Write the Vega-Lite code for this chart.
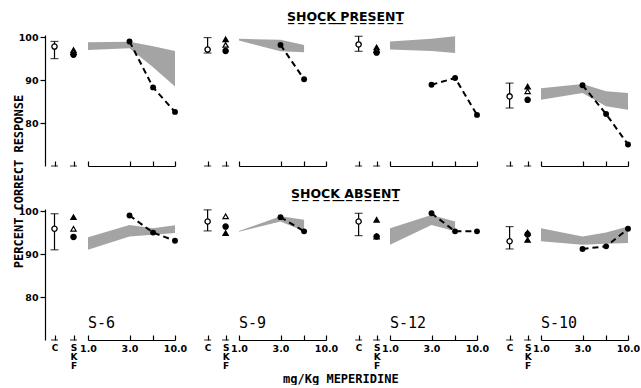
{
"$schema": "https://vega.github.io/schema/vega-lite/v6.json",
"background": "white",
"padding": {"left": 12, "top": 10, "right": 0, "bottom": 0},
"title": {"text": "mg/Kg MEPERIDINE", "orient": "bottom", "anchor": "middle", "fontSize": 12, "font": "DejaVu Sans Mono", "fontWeight": "bold", "offset": 4, "dx": 15},
"bounds": "flush",
"columns": 8,
"spacing": {"row": 43, "column": 5},
"concat": [
 {"width": 38, "height": 131, "layer": [
  {"data": {"values": [{"cond": "C"}, {"cond": "SKF"}]}, "mark": {"type": "tick", "orient": "horizontal", "size": 7, "thickness": 1.2, "color": "black"},
   "encoding": {"x": {"field": "cond", "type": "nominal", "scale": {"type": "point", "domain": ["C", "SKF"], "padding": 0.5}, "axis": {"title": null, "domain": false, "tickSize": -5, "labels": false}},
    "y": {"datum": 70, "type": "quantitative", "scale": {"domain": [70, 100.5], "nice": false, "zero": false}, "axis": {"title": "PERCENT CORRECT RESPONSE", "values": [80, 90, 100], "tickSize": 5, "labelFontSize": 9.5, "labelFontWeight": "bold", "labelPadding": 2, "titleFont": "DejaVu Sans Mono", "titleFontSize": 12, "titleFontWeight": "bold", "titleX": -20, "titleY": 146}}}},
  {"data": {"name": "ctrl"}, "transform": [{"filter": "datum.subject=='S-6' && datum.shock=='present'"}], "mark": {"type": "rule", "color": "black", "strokeWidth": 1.2}, "encoding": {"x": {"field": "cond", "type": "nominal"}, "y": {"field": "lo", "type": "quantitative"}, "y2": {"field": "hi"}}},
  {"data": {"name": "ctrl"}, "transform": [{"filter": "datum.subject=='S-6' && datum.shock=='present'"}], "mark": {"type": "tick", "orient": "horizontal", "size": 8, "thickness": 1.2, "color": "black"}, "encoding": {"x": {"field": "cond", "type": "nominal"}, "y": {"field": "lo", "type": "quantitative"}}},
  {"data": {"name": "ctrl"}, "transform": [{"filter": "datum.subject=='S-6' && datum.shock=='present'"}], "mark": {"type": "tick", "orient": "horizontal", "size": 8, "thickness": 1.2, "color": "black"}, "encoding": {"x": {"field": "cond", "type": "nominal"}, "y": {"field": "hi", "type": "quantitative"}}},
  {"data": {"name": "ctrl"}, "transform": [{"filter": "datum.subject=='S-6' && datum.shock=='present'"}], "mark": {"type": "point", "shape": "circle", "filled": true, "fill": "white", "stroke": "black", "strokeWidth": 1.3, "size": 28, "opacity": 1}, "encoding": {"x": {"field": "cond", "type": "nominal"}, "y": {"field": "mean", "type": "quantitative"}}},
  {"data": {"name": "skf"}, "transform": [{"filter": "datum.subject=='S-6' && datum.shock=='present'"}], "mark": {"type": "point", "filled": true, "stroke": "black", "strokeWidth": 1.2, "size": 28, "opacity": 1}, "encoding": {"x": {"field": "cond", "type": "nominal"}, "y": {"field": "value", "type": "quantitative"}, "shape": {"field": "sym", "type": "nominal", "scale": {"domain": ["A", "B", "C"], "range": ["triangle-up", "triangle-up", "circle"]}, "legend": null}, "fill": {"field": "sym", "type": "nominal", "scale": {"domain": ["A", "B", "C"], "range": ["black", "white", "black"]}, "legend": null}}}
 ]},
 {"width": 87, "height": 131, "layer": [
  {"data": {"name": "band"}, "transform": [{"filter": "datum.subject=='S-6' && datum.shock=='present'"}], "mark": {"type": "area", "fill": "#9a9a9a", "opacity": 0.9}, "encoding": {"x": {"field": "dose", "type": "quantitative", "scale": {"type": "log", "domain": [1, 10], "nice": false}, "axis": {"title": null, "values": [1, 3, 5.6, 10], "tickSize": -5, "labels": false}}, "y": {"field": "lo", "type": "quantitative", "scale": {"domain": [70, 100.5], "nice": false, "zero": false}, "axis": null}, "y2": {"field": "hi"}}},
  {"data": {"name": "drug"}, "transform": [{"filter": "datum.subject=='S-6' && datum.shock=='present'"}], "mark": {"type": "line", "color": "black", "strokeWidth": 2, "strokeDash": [6, 4]}, "encoding": {"x": {"field": "dose", "type": "quantitative"}, "y": {"field": "value", "type": "quantitative"}}},
  {"data": {"name": "drug"}, "transform": [{"filter": "datum.subject=='S-6' && datum.shock=='present'"}], "mark": {"type": "point", "shape": "circle", "filled": true, "color": "black", "size": 35, "opacity": 1}, "encoding": {"x": {"field": "dose", "type": "quantitative"}, "y": {"field": "value", "type": "quantitative"}}}
 ]},
 {"width": 54, "height": 131, "layer": [
  {"data": {"values": [{"cond": "C"}, {"cond": "SKF"}]}, "mark": {"type": "tick", "orient": "horizontal", "size": 7, "thickness": 1.2, "color": "black"},
   "encoding": {"x": {"field": "cond", "type": "nominal", "scale": {"type": "point", "domain": ["C", "SKF"], "padding": 1.043, "align": 0.767}, "axis": {"title": null, "domain": false, "tickSize": -5, "labels": false}},
    "y": {"datum": 70, "type": "quantitative", "scale": {"domain": [70, 100.5], "nice": false, "zero": false}, "axis": null}}},
  {"data": {"name": "ctrl"}, "transform": [{"filter": "datum.subject=='S-9' && datum.shock=='present'"}], "mark": {"type": "rule", "color": "black", "strokeWidth": 1.2}, "encoding": {"x": {"field": "cond", "type": "nominal"}, "y": {"field": "lo", "type": "quantitative"}, "y2": {"field": "hi"}}},
  {"data": {"name": "ctrl"}, "transform": [{"filter": "datum.subject=='S-9' && datum.shock=='present'"}], "mark": {"type": "tick", "orient": "horizontal", "size": 8, "thickness": 1.2, "color": "black"}, "encoding": {"x": {"field": "cond", "type": "nominal"}, "y": {"field": "lo", "type": "quantitative"}}},
  {"data": {"name": "ctrl"}, "transform": [{"filter": "datum.subject=='S-9' && datum.shock=='present'"}], "mark": {"type": "tick", "orient": "horizontal", "size": 8, "thickness": 1.2, "color": "black"}, "encoding": {"x": {"field": "cond", "type": "nominal"}, "y": {"field": "hi", "type": "quantitative"}}},
  {"data": {"name": "ctrl"}, "transform": [{"filter": "datum.subject=='S-9' && datum.shock=='present'"}], "mark": {"type": "point", "shape": "circle", "filled": true, "fill": "white", "stroke": "black", "strokeWidth": 1.3, "size": 28, "opacity": 1}, "encoding": {"x": {"field": "cond", "type": "nominal"}, "y": {"field": "mean", "type": "quantitative"}}},
  {"data": {"name": "skf"}, "transform": [{"filter": "datum.subject=='S-9' && datum.shock=='present'"}], "mark": {"type": "point", "filled": true, "stroke": "black", "strokeWidth": 1.2, "size": 28, "opacity": 1}, "encoding": {"x": {"field": "cond", "type": "nominal"}, "y": {"field": "value", "type": "quantitative"}, "shape": {"field": "sym", "type": "nominal", "scale": {"domain": ["A", "B", "C"], "range": ["triangle-up", "triangle-up", "circle"]}, "legend": null}, "fill": {"field": "sym", "type": "nominal", "scale": {"domain": ["A", "B", "C"], "range": ["black", "white", "black"]}, "legend": null}}}
 ]},
 {"width": 87, "height": 131,
  "title": {"text": "S̲H̲O̲C̲K̲ ̲P̲R̲E̲S̲E̲N̲T̲", "anchor": "middle", "font": "DejaVu Sans", "fontSize": 12.5, "fontWeight": "bold", "offset": 12, "dx": 63},
  "layer": [
  {"data": {"name": "band"}, "transform": [{"filter": "datum.subject=='S-9' && datum.shock=='present'"}], "mark": {"type": "area", "fill": "#9a9a9a", "opacity": 0.9}, "encoding": {"x": {"field": "dose", "type": "quantitative", "scale": {"type": "log", "domain": [1, 10], "nice": false}, "axis": {"title": null, "values": [1, 3, 5.6, 10], "tickSize": -5, "labels": false}}, "y": {"field": "lo", "type": "quantitative", "scale": {"domain": [70, 100.5], "nice": false, "zero": false}, "axis": null}, "y2": {"field": "hi"}}},
  {"data": {"name": "drug"}, "transform": [{"filter": "datum.subject=='S-9' && datum.shock=='present'"}], "mark": {"type": "line", "color": "black", "strokeWidth": 2, "strokeDash": [6, 4]}, "encoding": {"x": {"field": "dose", "type": "quantitative"}, "y": {"field": "value", "type": "quantitative"}}},
  {"data": {"name": "drug"}, "transform": [{"filter": "datum.subject=='S-9' && datum.shock=='present'"}], "mark": {"type": "point", "shape": "circle", "filled": true, "color": "black", "size": 35, "opacity": 1}, "encoding": {"x": {"field": "dose", "type": "quantitative"}, "y": {"field": "value", "type": "quantitative"}}}
 ]},
 {"width": 54, "height": 131, "layer": [
  {"data": {"values": [{"cond": "C"}, {"cond": "SKF"}]}, "mark": {"type": "tick", "orient": "horizontal", "size": 7, "thickness": 1.2, "color": "black"},
   "encoding": {"x": {"field": "cond", "type": "nominal", "scale": {"type": "point", "domain": ["C", "SKF"], "padding": 1.043, "align": 0.767}, "axis": {"title": null, "domain": false, "tickSize": -5, "labels": false}},
    "y": {"datum": 70, "type": "quantitative", "scale": {"domain": [70, 100.5], "nice": false, "zero": false}, "axis": null}}},
  {"data": {"name": "ctrl"}, "transform": [{"filter": "datum.subject=='S-12' && datum.shock=='present'"}], "mark": {"type": "rule", "color": "black", "strokeWidth": 1.2}, "encoding": {"x": {"field": "cond", "type": "nominal"}, "y": {"field": "lo", "type": "quantitative"}, "y2": {"field": "hi"}}},
  {"data": {"name": "ctrl"}, "transform": [{"filter": "datum.subject=='S-12' && datum.shock=='present'"}], "mark": {"type": "tick", "orient": "horizontal", "size": 8, "thickness": 1.2, "color": "black"}, "encoding": {"x": {"field": "cond", "type": "nominal"}, "y": {"field": "lo", "type": "quantitative"}}},
  {"data": {"name": "ctrl"}, "transform": [{"filter": "datum.subject=='S-12' && datum.shock=='present'"}], "mark": {"type": "tick", "orient": "horizontal", "size": 8, "thickness": 1.2, "color": "black"}, "encoding": {"x": {"field": "cond", "type": "nominal"}, "y": {"field": "hi", "type": "quantitative"}}},
  {"data": {"name": "ctrl"}, "transform": [{"filter": "datum.subject=='S-12' && datum.shock=='present'"}], "mark": {"type": "point", "shape": "circle", "filled": true, "fill": "white", "stroke": "black", "strokeWidth": 1.3, "size": 28, "opacity": 1}, "encoding": {"x": {"field": "cond", "type": "nominal"}, "y": {"field": "mean", "type": "quantitative"}}},
  {"data": {"name": "skf"}, "transform": [{"filter": "datum.subject=='S-12' && datum.shock=='present'"}], "mark": {"type": "point", "filled": true, "stroke": "black", "strokeWidth": 1.2, "size": 28, "opacity": 1}, "encoding": {"x": {"field": "cond", "type": "nominal"}, "y": {"field": "value", "type": "quantitative"}, "shape": {"field": "sym", "type": "nominal", "scale": {"domain": ["A", "B", "C"], "range": ["triangle-up", "triangle-up", "circle"]}, "legend": null}, "fill": {"field": "sym", "type": "nominal", "scale": {"domain": ["A", "B", "C"], "range": ["black", "white", "black"]}, "legend": null}}}
 ]},
 {"width": 87, "height": 131, "layer": [
  {"data": {"name": "band"}, "transform": [{"filter": "datum.subject=='S-12' && datum.shock=='present'"}], "mark": {"type": "area", "fill": "#9a9a9a", "opacity": 0.9}, "encoding": {"x": {"field": "dose", "type": "quantitative", "scale": {"type": "log", "domain": [1, 10], "nice": false}, "axis": {"title": null, "values": [1, 3, 5.6, 10], "tickSize": -5, "labels": false}}, "y": {"field": "lo", "type": "quantitative", "scale": {"domain": [70, 100.5], "nice": false, "zero": false}, "axis": null}, "y2": {"field": "hi"}}},
  {"data": {"name": "drug"}, "transform": [{"filter": "datum.subject=='S-12' && datum.shock=='present'"}], "mark": {"type": "line", "color": "black", "strokeWidth": 2, "strokeDash": [6, 4]}, "encoding": {"x": {"field": "dose", "type": "quantitative"}, "y": {"field": "value", "type": "quantitative"}}},
  {"data": {"name": "drug"}, "transform": [{"filter": "datum.subject=='S-12' && datum.shock=='present'"}], "mark": {"type": "point", "shape": "circle", "filled": true, "color": "black", "size": 35, "opacity": 1}, "encoding": {"x": {"field": "dose", "type": "quantitative"}, "y": {"field": "value", "type": "quantitative"}}}
 ]},
 {"width": 54, "height": 131, "layer": [
  {"data": {"values": [{"cond": "C"}, {"cond": "SKF"}]}, "mark": {"type": "tick", "orient": "horizontal", "size": 7, "thickness": 1.2, "color": "black"},
   "encoding": {"x": {"field": "cond", "type": "nominal", "scale": {"type": "point", "domain": ["C", "SKF"], "padding": 1.043, "align": 0.767}, "axis": {"title": null, "domain": false, "tickSize": -5, "labels": false}},
    "y": {"datum": 70, "type": "quantitative", "scale": {"domain": [70, 100.5], "nice": false, "zero": false}, "axis": null}}},
  {"data": {"name": "ctrl"}, "transform": [{"filter": "datum.subject=='S-10' && datum.shock=='present'"}], "mark": {"type": "rule", "color": "black", "strokeWidth": 1.2}, "encoding": {"x": {"field": "cond", "type": "nominal"}, "y": {"field": "lo", "type": "quantitative"}, "y2": {"field": "hi"}}},
  {"data": {"name": "ctrl"}, "transform": [{"filter": "datum.subject=='S-10' && datum.shock=='present'"}], "mark": {"type": "tick", "orient": "horizontal", "size": 8, "thickness": 1.2, "color": "black"}, "encoding": {"x": {"field": "cond", "type": "nominal"}, "y": {"field": "lo", "type": "quantitative"}}},
  {"data": {"name": "ctrl"}, "transform": [{"filter": "datum.subject=='S-10' && datum.shock=='present'"}], "mark": {"type": "tick", "orient": "horizontal", "size": 8, "thickness": 1.2, "color": "black"}, "encoding": {"x": {"field": "cond", "type": "nominal"}, "y": {"field": "hi", "type": "quantitative"}}},
  {"data": {"name": "ctrl"}, "transform": [{"filter": "datum.subject=='S-10' && datum.shock=='present'"}], "mark": {"type": "point", "shape": "circle", "filled": true, "fill": "white", "stroke": "black", "strokeWidth": 1.3, "size": 28, "opacity": 1}, "encoding": {"x": {"field": "cond", "type": "nominal"}, "y": {"field": "mean", "type": "quantitative"}}},
  {"data": {"name": "skf"}, "transform": [{"filter": "datum.subject=='S-10' && datum.shock=='present'"}], "mark": {"type": "point", "filled": true, "stroke": "black", "strokeWidth": 1.2, "size": 28, "opacity": 1}, "encoding": {"x": {"field": "cond", "type": "nominal"}, "y": {"field": "value", "type": "quantitative"}, "shape": {"field": "sym", "type": "nominal", "scale": {"domain": ["A", "B", "C"], "range": ["triangle-up", "triangle-up", "circle"]}, "legend": null}, "fill": {"field": "sym", "type": "nominal", "scale": {"domain": ["A", "B", "C"], "range": ["black", "white", "black"]}, "legend": null}}}
 ]},
 {"width": 87, "height": 131, "layer": [
  {"data": {"name": "band"}, "transform": [{"filter": "datum.subject=='S-10' && datum.shock=='present'"}], "mark": {"type": "area", "fill": "#9a9a9a", "opacity": 0.9}, "encoding": {"x": {"field": "dose", "type": "quantitative", "scale": {"type": "log", "domain": [1, 10], "nice": false}, "axis": {"title": null, "values": [1, 3, 5.6, 10], "tickSize": -5, "labels": false}}, "y": {"field": "lo", "type": "quantitative", "scale": {"domain": [70, 100.5], "nice": false, "zero": false}, "axis": null}, "y2": {"field": "hi"}}},
  {"data": {"name": "drug"}, "transform": [{"filter": "datum.subject=='S-10' && datum.shock=='present'"}], "mark": {"type": "line", "color": "black", "strokeWidth": 2, "strokeDash": [6, 4]}, "encoding": {"x": {"field": "dose", "type": "quantitative"}, "y": {"field": "value", "type": "quantitative"}}},
  {"data": {"name": "drug"}, "transform": [{"filter": "datum.subject=='S-10' && datum.shock=='present'"}], "mark": {"type": "point", "shape": "circle", "filled": true, "color": "black", "size": 35, "opacity": 1}, "encoding": {"x": {"field": "dose", "type": "quantitative"}, "y": {"field": "value", "type": "quantitative"}}}
 ]},

 {"width": 38, "height": 131, "layer": [
  {"data": {"values": [{"cond": "C"}, {"cond": "SKF"}]}, "mark": {"type": "tick", "orient": "horizontal", "size": 7, "thickness": 1.2, "color": "black"},
   "encoding": {"x": {"field": "cond", "type": "nominal", "scale": {"type": "point", "domain": ["C", "SKF"], "padding": 0.5}, "axis": {"title": null, "domain": false, "tickSize": -5, "labels": true, "labelAngle": 0, "labelExpr": "datum.value=='SKF' ? ['S','K','F'] : datum.value", "labelFontSize": 9, "labelFontWeight": "bold", "labelPadding": 8, "labelLineHeight": 9, "labelBaseline": "top"}},
    "y": {"datum": 70, "type": "quantitative", "scale": {"domain": [70, 100.5], "nice": false, "zero": false}, "axis": {"title": null, "values": [80, 90, 100], "tickSize": 5, "labelFontSize": 9.5, "labelFontWeight": "bold", "labelPadding": 2}}}},
  {"data": {"name": "ctrl"}, "transform": [{"filter": "datum.subject=='S-6' && datum.shock=='absent'"}], "mark": {"type": "rule", "color": "black", "strokeWidth": 1.2}, "encoding": {"x": {"field": "cond", "type": "nominal"}, "y": {"field": "lo", "type": "quantitative"}, "y2": {"field": "hi"}}},
  {"data": {"name": "ctrl"}, "transform": [{"filter": "datum.subject=='S-6' && datum.shock=='absent'"}], "mark": {"type": "tick", "orient": "horizontal", "size": 8, "thickness": 1.2, "color": "black"}, "encoding": {"x": {"field": "cond", "type": "nominal"}, "y": {"field": "lo", "type": "quantitative"}}},
  {"data": {"name": "ctrl"}, "transform": [{"filter": "datum.subject=='S-6' && datum.shock=='absent'"}], "mark": {"type": "tick", "orient": "horizontal", "size": 8, "thickness": 1.2, "color": "black"}, "encoding": {"x": {"field": "cond", "type": "nominal"}, "y": {"field": "hi", "type": "quantitative"}}},
  {"data": {"name": "ctrl"}, "transform": [{"filter": "datum.subject=='S-6' && datum.shock=='absent'"}], "mark": {"type": "point", "shape": "circle", "filled": true, "fill": "white", "stroke": "black", "strokeWidth": 1.3, "size": 28, "opacity": 1}, "encoding": {"x": {"field": "cond", "type": "nominal"}, "y": {"field": "mean", "type": "quantitative"}}},
  {"data": {"name": "skf"}, "transform": [{"filter": "datum.subject=='S-6' && datum.shock=='absent'"}], "mark": {"type": "point", "filled": true, "stroke": "black", "strokeWidth": 1.2, "size": 28, "opacity": 1}, "encoding": {"x": {"field": "cond", "type": "nominal"}, "y": {"field": "value", "type": "quantitative"}, "shape": {"field": "sym", "type": "nominal", "scale": {"domain": ["A", "B", "C"], "range": ["triangle-up", "triangle-up", "circle"]}, "legend": null}, "fill": {"field": "sym", "type": "nominal", "scale": {"domain": ["A", "B", "C"], "range": ["black", "white", "black"]}, "legend": null}}}
 ]},
 {"width": 87, "height": 131, "layer": [
  {"data": {"name": "band"}, "transform": [{"filter": "datum.subject=='S-6' && datum.shock=='absent'"}], "mark": {"type": "area", "fill": "#9a9a9a", "opacity": 0.9}, "encoding": {"x": {"field": "dose", "type": "quantitative", "scale": {"type": "log", "domain": [1, 10], "nice": false}, "axis": {"title": null, "values": [1, 3, 5.6, 10], "tickSize": -5, "labels": true, "labelExpr": "datum.value==5.6 ? '' : format(datum.value, '.1f')", "labelFontSize": 9.5, "labelFontWeight": "bold", "labelFlush": false, "labelOverlap": false, "labelPadding": 8, "labelBaseline": "top"}}, "y": {"field": "lo", "type": "quantitative", "scale": {"domain": [70, 100.5], "nice": false, "zero": false}, "axis": null}, "y2": {"field": "hi"}}},
  {"data": {"name": "drug"}, "transform": [{"filter": "datum.subject=='S-6' && datum.shock=='absent'"}], "mark": {"type": "line", "color": "black", "strokeWidth": 2, "strokeDash": [6, 4]}, "encoding": {"x": {"field": "dose", "type": "quantitative"}, "y": {"field": "value", "type": "quantitative"}}},
  {"data": {"name": "drug"}, "transform": [{"filter": "datum.subject=='S-6' && datum.shock=='absent'"}], "mark": {"type": "point", "shape": "circle", "filled": true, "color": "black", "size": 35, "opacity": 1}, "encoding": {"x": {"field": "dose", "type": "quantitative"}, "y": {"field": "value", "type": "quantitative"}}},
  {"data": {"name": "subj"}, "transform": [{"filter": "datum.subject=='S-6'"}], "mark": {"type": "text", "align": "left", "baseline": "middle", "fontSize": 15, "font": "DejaVu Sans Mono", "color": "black"}, "encoding": {"x": {"datum": 1, "type": "quantitative"}, "y": {"datum": 74, "type": "quantitative"}, "text": {"field": "subject"}}}
 ]},
 {"width": 54, "height": 131, "layer": [
  {"data": {"values": [{"cond": "C"}, {"cond": "SKF"}]}, "mark": {"type": "tick", "orient": "horizontal", "size": 7, "thickness": 1.2, "color": "black"},
   "encoding": {"x": {"field": "cond", "type": "nominal", "scale": {"type": "point", "domain": ["C", "SKF"], "padding": 1.043, "align": 0.767}, "axis": {"title": null, "domain": false, "tickSize": -5, "labels": true, "labelAngle": 0, "labelExpr": "datum.value=='SKF' ? ['S','K','F'] : datum.value", "labelFontSize": 9, "labelFontWeight": "bold", "labelPadding": 8, "labelLineHeight": 9, "labelBaseline": "top"}},
    "y": {"datum": 70, "type": "quantitative", "scale": {"domain": [70, 100.5], "nice": false, "zero": false}, "axis": null}}},
  {"data": {"name": "ctrl"}, "transform": [{"filter": "datum.subject=='S-9' && datum.shock=='absent'"}], "mark": {"type": "rule", "color": "black", "strokeWidth": 1.2}, "encoding": {"x": {"field": "cond", "type": "nominal"}, "y": {"field": "lo", "type": "quantitative"}, "y2": {"field": "hi"}}},
  {"data": {"name": "ctrl"}, "transform": [{"filter": "datum.subject=='S-9' && datum.shock=='absent'"}], "mark": {"type": "tick", "orient": "horizontal", "size": 8, "thickness": 1.2, "color": "black"}, "encoding": {"x": {"field": "cond", "type": "nominal"}, "y": {"field": "lo", "type": "quantitative"}}},
  {"data": {"name": "ctrl"}, "transform": [{"filter": "datum.subject=='S-9' && datum.shock=='absent'"}], "mark": {"type": "tick", "orient": "horizontal", "size": 8, "thickness": 1.2, "color": "black"}, "encoding": {"x": {"field": "cond", "type": "nominal"}, "y": {"field": "hi", "type": "quantitative"}}},
  {"data": {"name": "ctrl"}, "transform": [{"filter": "datum.subject=='S-9' && datum.shock=='absent'"}], "mark": {"type": "point", "shape": "circle", "filled": true, "fill": "white", "stroke": "black", "strokeWidth": 1.3, "size": 28, "opacity": 1}, "encoding": {"x": {"field": "cond", "type": "nominal"}, "y": {"field": "mean", "type": "quantitative"}}},
  {"data": {"name": "skf"}, "transform": [{"filter": "datum.subject=='S-9' && datum.shock=='absent'"}], "mark": {"type": "point", "filled": true, "stroke": "black", "strokeWidth": 1.2, "size": 28, "opacity": 1}, "encoding": {"x": {"field": "cond", "type": "nominal"}, "y": {"field": "value", "type": "quantitative"}, "shape": {"field": "sym", "type": "nominal", "scale": {"domain": ["A", "B", "C"], "range": ["triangle-up", "triangle-up", "circle"]}, "legend": null}, "fill": {"field": "sym", "type": "nominal", "scale": {"domain": ["A", "B", "C"], "range": ["black", "white", "black"]}, "legend": null}}}
 ]},
 {"width": 87, "height": 131,
  "title": {"text": "S̲H̲O̲C̲K̲ ̲A̲B̲S̲E̲N̲T̲", "anchor": "middle", "font": "DejaVu Sans", "fontSize": 12.5, "fontWeight": "bold", "offset": 9, "dx": 63},
  "layer": [
  {"data": {"name": "band"}, "transform": [{"filter": "datum.subject=='S-9' && datum.shock=='absent'"}], "mark": {"type": "area", "fill": "#9a9a9a", "opacity": 0.9}, "encoding": {"x": {"field": "dose", "type": "quantitative", "scale": {"type": "log", "domain": [1, 10], "nice": false}, "axis": {"title": null, "values": [1, 3, 5.6, 10], "tickSize": -5, "labels": true, "labelExpr": "datum.value==5.6 ? '' : format(datum.value, '.1f')", "labelFontSize": 9.5, "labelFontWeight": "bold", "labelFlush": false, "labelOverlap": false, "labelPadding": 8, "labelBaseline": "top"}}, "y": {"field": "lo", "type": "quantitative", "scale": {"domain": [70, 100.5], "nice": false, "zero": false}, "axis": null}, "y2": {"field": "hi"}}},
  {"data": {"name": "drug"}, "transform": [{"filter": "datum.subject=='S-9' && datum.shock=='absent'"}], "mark": {"type": "line", "color": "black", "strokeWidth": 2, "strokeDash": [6, 4]}, "encoding": {"x": {"field": "dose", "type": "quantitative"}, "y": {"field": "value", "type": "quantitative"}}},
  {"data": {"name": "drug"}, "transform": [{"filter": "datum.subject=='S-9' && datum.shock=='absent'"}], "mark": {"type": "point", "shape": "circle", "filled": true, "color": "black", "size": 35, "opacity": 1}, "encoding": {"x": {"field": "dose", "type": "quantitative"}, "y": {"field": "value", "type": "quantitative"}}},
  {"data": {"name": "subj"}, "transform": [{"filter": "datum.subject=='S-9'"}], "mark": {"type": "text", "align": "left", "baseline": "middle", "fontSize": 15, "font": "DejaVu Sans Mono", "color": "black"}, "encoding": {"x": {"datum": 1, "type": "quantitative"}, "y": {"datum": 74, "type": "quantitative"}, "text": {"field": "subject"}}}
 ]},
 {"width": 54, "height": 131, "layer": [
  {"data": {"values": [{"cond": "C"}, {"cond": "SKF"}]}, "mark": {"type": "tick", "orient": "horizontal", "size": 7, "thickness": 1.2, "color": "black"},
   "encoding": {"x": {"field": "cond", "type": "nominal", "scale": {"type": "point", "domain": ["C", "SKF"], "padding": 1.043, "align": 0.767}, "axis": {"title": null, "domain": false, "tickSize": -5, "labels": true, "labelAngle": 0, "labelExpr": "datum.value=='SKF' ? ['S','K','F'] : datum.value", "labelFontSize": 9, "labelFontWeight": "bold", "labelPadding": 8, "labelLineHeight": 9, "labelBaseline": "top"}},
    "y": {"datum": 70, "type": "quantitative", "scale": {"domain": [70, 100.5], "nice": false, "zero": false}, "axis": null}}},
  {"data": {"name": "ctrl"}, "transform": [{"filter": "datum.subject=='S-12' && datum.shock=='absent'"}], "mark": {"type": "rule", "color": "black", "strokeWidth": 1.2}, "encoding": {"x": {"field": "cond", "type": "nominal"}, "y": {"field": "lo", "type": "quantitative"}, "y2": {"field": "hi"}}},
  {"data": {"name": "ctrl"}, "transform": [{"filter": "datum.subject=='S-12' && datum.shock=='absent'"}], "mark": {"type": "tick", "orient": "horizontal", "size": 8, "thickness": 1.2, "color": "black"}, "encoding": {"x": {"field": "cond", "type": "nominal"}, "y": {"field": "lo", "type": "quantitative"}}},
  {"data": {"name": "ctrl"}, "transform": [{"filter": "datum.subject=='S-12' && datum.shock=='absent'"}], "mark": {"type": "tick", "orient": "horizontal", "size": 8, "thickness": 1.2, "color": "black"}, "encoding": {"x": {"field": "cond", "type": "nominal"}, "y": {"field": "hi", "type": "quantitative"}}},
  {"data": {"name": "ctrl"}, "transform": [{"filter": "datum.subject=='S-12' && datum.shock=='absent'"}], "mark": {"type": "point", "shape": "circle", "filled": true, "fill": "white", "stroke": "black", "strokeWidth": 1.3, "size": 28, "opacity": 1}, "encoding": {"x": {"field": "cond", "type": "nominal"}, "y": {"field": "mean", "type": "quantitative"}}},
  {"data": {"name": "skf"}, "transform": [{"filter": "datum.subject=='S-12' && datum.shock=='absent'"}], "mark": {"type": "point", "filled": true, "stroke": "black", "strokeWidth": 1.2, "size": 28, "opacity": 1}, "encoding": {"x": {"field": "cond", "type": "nominal"}, "y": {"field": "value", "type": "quantitative"}, "shape": {"field": "sym", "type": "nominal", "scale": {"domain": ["A", "B", "C"], "range": ["triangle-up", "triangle-up", "circle"]}, "legend": null}, "fill": {"field": "sym", "type": "nominal", "scale": {"domain": ["A", "B", "C"], "range": ["black", "white", "black"]}, "legend": null}}}
 ]},
 {"width": 87, "height": 131, "layer": [
  {"data": {"name": "band"}, "transform": [{"filter": "datum.subject=='S-12' && datum.shock=='absent'"}], "mark": {"type": "area", "fill": "#9a9a9a", "opacity": 0.9}, "encoding": {"x": {"field": "dose", "type": "quantitative", "scale": {"type": "log", "domain": [1, 10], "nice": false}, "axis": {"title": null, "values": [1, 3, 5.6, 10], "tickSize": -5, "labels": true, "labelExpr": "datum.value==5.6 ? '' : format(datum.value, '.1f')", "labelFontSize": 9.5, "labelFontWeight": "bold", "labelFlush": false, "labelOverlap": false, "labelPadding": 8, "labelBaseline": "top"}}, "y": {"field": "lo", "type": "quantitative", "scale": {"domain": [70, 100.5], "nice": false, "zero": false}, "axis": null}, "y2": {"field": "hi"}}},
  {"data": {"name": "drug"}, "transform": [{"filter": "datum.subject=='S-12' && datum.shock=='absent'"}], "mark": {"type": "line", "color": "black", "strokeWidth": 2, "strokeDash": [6, 4]}, "encoding": {"x": {"field": "dose", "type": "quantitative"}, "y": {"field": "value", "type": "quantitative"}}},
  {"data": {"name": "drug"}, "transform": [{"filter": "datum.subject=='S-12' && datum.shock=='absent'"}], "mark": {"type": "point", "shape": "circle", "filled": true, "color": "black", "size": 35, "opacity": 1}, "encoding": {"x": {"field": "dose", "type": "quantitative"}, "y": {"field": "value", "type": "quantitative"}}},
  {"data": {"name": "subj"}, "transform": [{"filter": "datum.subject=='S-12'"}], "mark": {"type": "text", "align": "left", "baseline": "middle", "fontSize": 15, "font": "DejaVu Sans Mono", "color": "black"}, "encoding": {"x": {"datum": 1, "type": "quantitative"}, "y": {"datum": 74, "type": "quantitative"}, "text": {"field": "subject"}}}
 ]},
 {"width": 54, "height": 131, "layer": [
  {"data": {"values": [{"cond": "C"}, {"cond": "SKF"}]}, "mark": {"type": "tick", "orient": "horizontal", "size": 7, "thickness": 1.2, "color": "black"},
   "encoding": {"x": {"field": "cond", "type": "nominal", "scale": {"type": "point", "domain": ["C", "SKF"], "padding": 1.043, "align": 0.767}, "axis": {"title": null, "domain": false, "tickSize": -5, "labels": true, "labelAngle": 0, "labelExpr": "datum.value=='SKF' ? ['S','K','F'] : datum.value", "labelFontSize": 9, "labelFontWeight": "bold", "labelPadding": 8, "labelLineHeight": 9, "labelBaseline": "top"}},
    "y": {"datum": 70, "type": "quantitative", "scale": {"domain": [70, 100.5], "nice": false, "zero": false}, "axis": null}}},
  {"data": {"name": "ctrl"}, "transform": [{"filter": "datum.subject=='S-10' && datum.shock=='absent'"}], "mark": {"type": "rule", "color": "black", "strokeWidth": 1.2}, "encoding": {"x": {"field": "cond", "type": "nominal"}, "y": {"field": "lo", "type": "quantitative"}, "y2": {"field": "hi"}}},
  {"data": {"name": "ctrl"}, "transform": [{"filter": "datum.subject=='S-10' && datum.shock=='absent'"}], "mark": {"type": "tick", "orient": "horizontal", "size": 8, "thickness": 1.2, "color": "black"}, "encoding": {"x": {"field": "cond", "type": "nominal"}, "y": {"field": "lo", "type": "quantitative"}}},
  {"data": {"name": "ctrl"}, "transform": [{"filter": "datum.subject=='S-10' && datum.shock=='absent'"}], "mark": {"type": "tick", "orient": "horizontal", "size": 8, "thickness": 1.2, "color": "black"}, "encoding": {"x": {"field": "cond", "type": "nominal"}, "y": {"field": "hi", "type": "quantitative"}}},
  {"data": {"name": "ctrl"}, "transform": [{"filter": "datum.subject=='S-10' && datum.shock=='absent'"}], "mark": {"type": "point", "shape": "circle", "filled": true, "fill": "white", "stroke": "black", "strokeWidth": 1.3, "size": 28, "opacity": 1}, "encoding": {"x": {"field": "cond", "type": "nominal"}, "y": {"field": "mean", "type": "quantitative"}}},
  {"data": {"name": "skf"}, "transform": [{"filter": "datum.subject=='S-10' && datum.shock=='absent'"}], "mark": {"type": "point", "filled": true, "stroke": "black", "strokeWidth": 1.2, "size": 28, "opacity": 1}, "encoding": {"x": {"field": "cond", "type": "nominal"}, "y": {"field": "value", "type": "quantitative"}, "shape": {"field": "sym", "type": "nominal", "scale": {"domain": ["A", "B", "C"], "range": ["triangle-up", "triangle-up", "circle"]}, "legend": null}, "fill": {"field": "sym", "type": "nominal", "scale": {"domain": ["A", "B", "C"], "range": ["black", "white", "black"]}, "legend": null}}}
 ]},
 {"width": 87, "height": 131, "layer": [
  {"data": {"name": "band"}, "transform": [{"filter": "datum.subject=='S-10' && datum.shock=='absent'"}], "mark": {"type": "area", "fill": "#9a9a9a", "opacity": 0.9}, "encoding": {"x": {"field": "dose", "type": "quantitative", "scale": {"type": "log", "domain": [1, 10], "nice": false}, "axis": {"title": null, "values": [1, 3, 5.6, 10], "tickSize": -5, "labels": true, "labelExpr": "datum.value==5.6 ? '' : format(datum.value, '.1f')", "labelFontSize": 9.5, "labelFontWeight": "bold", "labelFlush": false, "labelOverlap": false, "labelPadding": 8, "labelBaseline": "top"}}, "y": {"field": "lo", "type": "quantitative", "scale": {"domain": [70, 100.5], "nice": false, "zero": false}, "axis": null}, "y2": {"field": "hi"}}},
  {"data": {"name": "drug"}, "transform": [{"filter": "datum.subject=='S-10' && datum.shock=='absent'"}], "mark": {"type": "line", "color": "black", "strokeWidth": 2, "strokeDash": [6, 4]}, "encoding": {"x": {"field": "dose", "type": "quantitative"}, "y": {"field": "value", "type": "quantitative"}}},
  {"data": {"name": "drug"}, "transform": [{"filter": "datum.subject=='S-10' && datum.shock=='absent'"}], "mark": {"type": "point", "shape": "circle", "filled": true, "color": "black", "size": 35, "opacity": 1}, "encoding": {"x": {"field": "dose", "type": "quantitative"}, "y": {"field": "value", "type": "quantitative"}}},
  {"data": {"name": "subj"}, "transform": [{"filter": "datum.subject=='S-10'"}], "mark": {"type": "text", "align": "left", "baseline": "middle", "fontSize": 15, "font": "DejaVu Sans Mono", "color": "black"}, "encoding": {"x": {"datum": 1, "type": "quantitative"}, "y": {"datum": 74, "type": "quantitative"}, "text": {"field": "subject"}}}
 ]}
],
"datasets": {
 "ctrl": [
  {"subject": "S-6", "shock": "present", "cond": "C", "mean": 97.8, "lo": 95.0, "hi": 99.0},
  {"subject": "S-9", "shock": "present", "cond": "C", "mean": 97.1, "lo": 96.3, "hi": 99.9},
  {"subject": "S-12", "shock": "present", "cond": "C", "mean": 98.3, "lo": 96.7, "hi": 100.2},
  {"subject": "S-10", "shock": "present", "cond": "C", "mean": 86.2, "lo": 83.5, "hi": 89.3},
  {"subject": "S-6", "shock": "absent", "cond": "C", "mean": 95.9, "lo": 91.0, "hi": 99.4},
  {"subject": "S-9", "shock": "absent", "cond": "C", "mean": 97.6, "lo": 95.4, "hi": 100.3},
  {"subject": "S-12", "shock": "absent", "cond": "C", "mean": 97.6, "lo": 94.3, "hi": 99.5},
  {"subject": "S-10", "shock": "absent", "cond": "C", "mean": 93.0, "lo": 91.2, "hi": 96.4}
 ],
 "skf": [
  {"subject": "S-6", "shock": "present", "cond": "SKF", "sym": "A", "value": 97.0},
  {"subject": "S-6", "shock": "present", "cond": "SKF", "sym": "B", "value": 96.5},
  {"subject": "S-6", "shock": "present", "cond": "SKF", "sym": "C", "value": 95.9},
  {"subject": "S-9", "shock": "present", "cond": "SKF", "sym": "A", "value": 99.5},
  {"subject": "S-9", "shock": "present", "cond": "SKF", "sym": "B", "value": 98.2},
  {"subject": "S-9", "shock": "present", "cond": "SKF", "sym": "C", "value": 96.8},
  {"subject": "S-12", "shock": "present", "cond": "SKF", "sym": "A", "value": 97.6},
  {"subject": "S-12", "shock": "present", "cond": "SKF", "sym": "B", "value": 97.0},
  {"subject": "S-12", "shock": "present", "cond": "SKF", "sym": "C", "value": 96.4},
  {"subject": "S-10", "shock": "present", "cond": "SKF", "sym": "A", "value": 88.5},
  {"subject": "S-10", "shock": "present", "cond": "SKF", "sym": "B", "value": 87.4},
  {"subject": "S-10", "shock": "present", "cond": "SKF", "sym": "C", "value": 85.4},
  {"subject": "S-6", "shock": "absent", "cond": "SKF", "sym": "A", "value": 98.6},
  {"subject": "S-6", "shock": "absent", "cond": "SKF", "sym": "B", "value": 95.9},
  {"subject": "S-6", "shock": "absent", "cond": "SKF", "sym": "C", "value": 94.0},
  {"subject": "S-9", "shock": "absent", "cond": "SKF", "sym": "B", "value": 98.8},
  {"subject": "S-9", "shock": "absent", "cond": "SKF", "sym": "C", "value": 96.4},
  {"subject": "S-9", "shock": "absent", "cond": "SKF", "sym": "A", "value": 94.9},
  {"subject": "S-12", "shock": "absent", "cond": "SKF", "sym": "A", "value": 98.0},
  {"subject": "S-12", "shock": "absent", "cond": "SKF", "sym": "B", "value": 94.1},
  {"subject": "S-12", "shock": "absent", "cond": "SKF", "sym": "C", "value": 94.1},
  {"subject": "S-10", "shock": "absent", "cond": "SKF", "sym": "B", "value": 95.0},
  {"subject": "S-10", "shock": "absent", "cond": "SKF", "sym": "C", "value": 94.6},
  {"subject": "S-10", "shock": "absent", "cond": "SKF", "sym": "A", "value": 93.3}
 ],
 "band": [
  {"subject": "S-6", "shock": "present", "dose": 1, "lo": 97.0, "hi": 98.8},
  {"subject": "S-6", "shock": "present", "dose": 3, "lo": 97.4, "hi": 98.9},
  {"subject": "S-6", "shock": "present", "dose": 5.6, "lo": 93.0, "hi": 97.9},
  {"subject": "S-6", "shock": "present", "dose": 10, "lo": 88.5, "hi": 96.8},
  {"subject": "S-9", "shock": "present", "dose": 1, "lo": 99.2, "hi": 99.6},
  {"subject": "S-9", "shock": "present", "dose": 3, "lo": 96.7, "hi": 99.4},
  {"subject": "S-9", "shock": "present", "dose": 5.6, "lo": 96.5, "hi": 98.2},
  {"subject": "S-12", "shock": "present", "dose": 1, "lo": 97.1, "hi": 99.0},
  {"subject": "S-12", "shock": "present", "dose": 3, "lo": 96.8, "hi": 99.6},
  {"subject": "S-12", "shock": "present", "dose": 5.6, "lo": 96.3, "hi": 100.2},
  {"subject": "S-10", "shock": "present", "dose": 1, "lo": 85.4, "hi": 88.1},
  {"subject": "S-10", "shock": "present", "dose": 3, "lo": 87.0, "hi": 89.1},
  {"subject": "S-10", "shock": "present", "dose": 5.6, "lo": 83.9, "hi": 87.4},
  {"subject": "S-10", "shock": "present", "dose": 10, "lo": 83.1, "hi": 87.0},
  {"subject": "S-6", "shock": "absent", "dose": 1, "lo": 91.0, "hi": 93.9},
  {"subject": "S-6", "shock": "absent", "dose": 3, "lo": 94.1, "hi": 96.8},
  {"subject": "S-6", "shock": "absent", "dose": 5.6, "lo": 94.5, "hi": 96.0},
  {"subject": "S-6", "shock": "absent", "dose": 10, "lo": 94.9, "hi": 96.7},
  {"subject": "S-9", "shock": "absent", "dose": 1, "lo": 95.2, "hi": 95.4},
  {"subject": "S-9", "shock": "absent", "dose": 3, "lo": 97.6, "hi": 98.8},
  {"subject": "S-9", "shock": "absent", "dose": 5.6, "lo": 95.3, "hi": 98.0},
  {"subject": "S-12", "shock": "absent", "dose": 1, "lo": 92.2, "hi": 96.0},
  {"subject": "S-12", "shock": "absent", "dose": 3, "lo": 96.8, "hi": 99.1},
  {"subject": "S-12", "shock": "absent", "dose": 5.6, "lo": 95.3, "hi": 97.6},
  {"subject": "S-10", "shock": "absent", "dose": 1, "lo": 93.0, "hi": 96.0},
  {"subject": "S-10", "shock": "absent", "dose": 3, "lo": 92.2, "hi": 94.1},
  {"subject": "S-10", "shock": "absent", "dose": 5.6, "lo": 92.4, "hi": 95.0},
  {"subject": "S-10", "shock": "absent", "dose": 10, "lo": 92.6, "hi": 96.4}
 ],
 "drug": [
  {"subject": "S-6", "shock": "present", "dose": 3, "value": 99.0},
  {"subject": "S-6", "shock": "present", "dose": 5.6, "value": 88.3},
  {"subject": "S-6", "shock": "present", "dose": 10, "value": 82.6},
  {"subject": "S-9", "shock": "present", "dose": 3, "value": 98.2},
  {"subject": "S-9", "shock": "present", "dose": 5.6, "value": 90.2},
  {"subject": "S-12", "shock": "present", "dose": 3, "value": 88.9},
  {"subject": "S-12", "shock": "present", "dose": 5.6, "value": 90.5},
  {"subject": "S-12", "shock": "present", "dose": 10, "value": 81.9},
  {"subject": "S-10", "shock": "present", "dose": 3, "value": 88.8},
  {"subject": "S-10", "shock": "present", "dose": 5.6, "value": 82.1},
  {"subject": "S-10", "shock": "present", "dose": 10, "value": 75.0},
  {"subject": "S-6", "shock": "absent", "dose": 3, "value": 99.0},
  {"subject": "S-6", "shock": "absent", "dose": 5.6, "value": 95.0},
  {"subject": "S-6", "shock": "absent", "dose": 10, "value": 93.1},
  {"subject": "S-9", "shock": "absent", "dose": 3, "value": 98.6},
  {"subject": "S-9", "shock": "absent", "dose": 5.6, "value": 95.3},
  {"subject": "S-12", "shock": "absent", "dose": 3, "value": 99.5},
  {"subject": "S-12", "shock": "absent", "dose": 5.6, "value": 95.3},
  {"subject": "S-12", "shock": "absent", "dose": 10, "value": 95.3},
  {"subject": "S-10", "shock": "absent", "dose": 3, "value": 91.2},
  {"subject": "S-10", "shock": "absent", "dose": 5.6, "value": 91.8},
  {"subject": "S-10", "shock": "absent", "dose": 10, "value": 95.9}
 ],
 "subj": [{"subject": "S-6"}, {"subject": "S-9"}, {"subject": "S-12"}, {"subject": "S-10"}]
},
"config": {
 "view": {"stroke": null},
 "font": "DejaVu Sans",
 "axis": {"labelColor": "black", "tickColor": "black", "domainColor": "black", "titleColor": "black", "grid": false, "labelFont": "DejaVu Sans", "titleFont": "DejaVu Sans", "domainWidth": 1.2, "tickWidth": 1.2},
 "title": {"color": "black", "font": "DejaVu Sans"}
}
}
